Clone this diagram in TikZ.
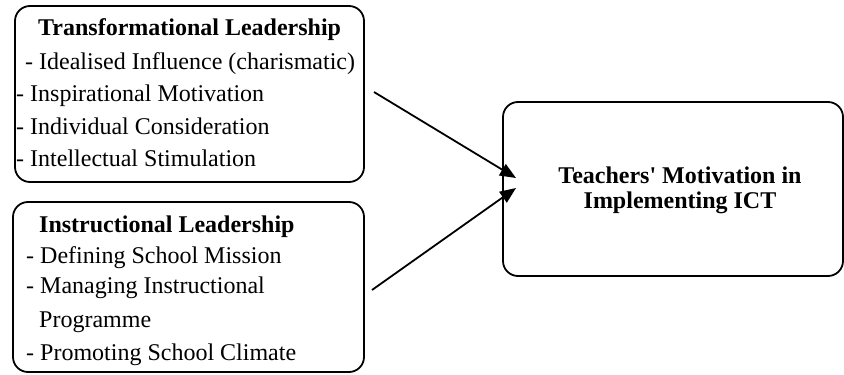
\documentclass[tikz,border=0pt]{standalone}
\usepackage{fontspec}
\setmainfont{Liberation Serif}
\usetikzlibrary{arrows.meta}
\begin{document}
\begin{tikzpicture}[x=1pt,y=1pt,
  box/.style={draw,line width=1.8pt,rounded corners=15pt,inner sep=0pt},
  item/.style={anchor=base west,inner sep=0pt,font=\fontsize{24}{28}\selectfont},
  head/.style={item,font=\fontsize{24}{28}\selectfont\bfseries},
  arr/.style={line width=1.8pt,-{Triangle[length=16pt,width=13pt]}}]
\useasboundingbox (0,0) rectangle (844,-375);

% left boxes
\node[box,minimum width=349pt,minimum height=176pt] (tl) at (189.5,-94) {};
\node[box,minimum width=351pt,minimum height=170pt] (il) at (188.5,-287) {};
% outcome box
\node[box,minimum width=340pt,minimum height=174pt] (mot) at (673,-189) {};

% transformational leadership
\node[head] (t0) at (38,-35) {Transformational Leadership};
\node[item] (t1) at (25,-69) {- Idealised Influence (charismatic)};
\node[item] (t2) at (16,-101) {- Inspirational Motivation};
\node[item] (t3) at (16,-134) {- Individual Consideration};
\node[item] (t4) at (16,-166) {- Intellectual Stimulation};

% instructional leadership
\node[head] (i0) at (39,-232) {Instructional Leadership};
\node[item] (i1) at (26,-263) {- Defining School Mission};
\node[item] (i2) at (26,-293) {- Managing Instructional};
\node[item] (i3) at (39,-327) {Programme};
\node[item] (i4) at (26,-360) {- Promoting School Climate};

% outcome text
\node[align=center,inner sep=0pt,font=\fontsize{24}{25}\selectfont\bfseries] (mt) at (680,-190)
  {Teachers\textquotesingle\ Motivation in\\Implementing ICT};

% connectors
\coordinate (s1) at (374,-92);
\coordinate (s2) at (372,-290);
\draw[arr] (s1) -- (516,-178);
\draw[arr] (s2) -- (516,-188);
\end{tikzpicture}
\end{document}
